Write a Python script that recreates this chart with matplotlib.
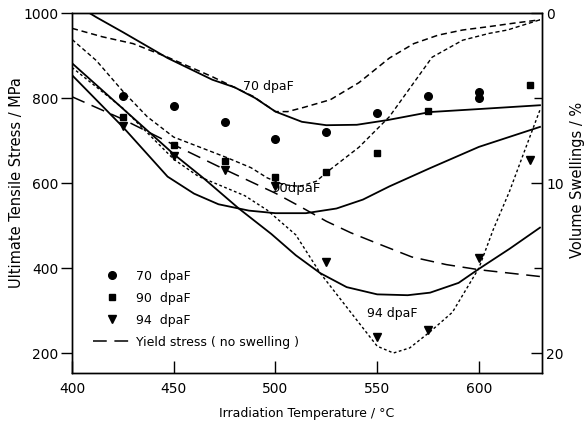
import matplotlib
matplotlib.use("Agg")
import matplotlib.pyplot as plt
from matplotlib.lines import Line2D

# ---------------- data ----------------
# measured UTS points (MPa)
t_70 = [425, 450, 475, 500, 525, 550, 575, 600, 600]
uts_70 = [805, 781, 744, 704, 720, 765, 805, 813, 801]
t_90 = [425, 450, 475, 500, 525, 550, 575, 625]
uts_90 = [755, 690, 652, 614, 626, 671, 770, 831]
t_94 = [425, 450, 475, 500, 525, 550, 575, 600, 625]
uts_94 = [733, 663, 630, 592, 415, 237, 253, 423, 655]

# predicted UTS curves (MPa, solid)
tc_70 = [400, 412, 425, 447, 469, 480, 490, 500, 513, 525, 540, 555, 576, 600, 630]
uc_70 = [1025, 990, 955, 894, 843, 825, 800, 768, 744, 736, 737, 748, 767, 774, 783]
tc_90 = [400, 425, 447, 460, 472, 487, 500, 515, 530, 543, 556, 576, 600, 630]
uc_90 = [854, 732, 615, 575, 550, 535, 529, 529, 540, 561, 592, 635, 685, 732]
tc_94 = [400, 425, 450, 465, 482, 498, 510, 522, 535, 550, 565, 576, 590, 600, 615, 630]
uc_94 = [882, 775, 668, 610, 540, 480, 430, 388, 355, 338, 336, 342, 365, 398, 445, 495]

# yield stress, no swelling (MPa, long dash)
t_ys = [400, 425, 450, 475, 500, 512, 525, 537, 550, 567, 584, 600, 615, 630]
ys = [803, 750, 690, 632, 576, 545, 510, 483, 458, 426, 408, 396, 388, 380]

# volume swelling curves (%, right axis, short dash)
ts_70 = [400, 415, 430, 447, 469, 489, 500, 506, 514, 527, 541, 556, 568, 580, 592, 605, 617, 630]
sw_70 = [0.9, 1.4, 1.8, 2.6, 3.75, 4.9, 5.8, 5.8, 5.55, 5.1, 4.1, 2.65, 1.8, 1.3, 1.0, 0.8, 0.6, 0.4]
ts_90 = [400, 412, 425, 437, 450, 463, 476, 488, 496, 504, 512, 520, 527, 541, 556, 568, 577, 592, 605, 614, 630]
sw_90 = [1.55, 2.8, 4.6, 6.1, 7.3, 7.9, 8.5, 9.1, 9.7, 10.1, 10.2, 9.9, 9.2, 7.9, 6.1, 4.1, 2.6, 1.6, 1.2, 1.0, 0.4]
ts_94 = [400, 425, 450, 462, 475, 485, 496, 510, 522, 535, 550, 558, 566, 576, 587, 600, 607, 615, 622, 630]
sw_94 = [3.2, 5.6, 8.6, 9.6, 10.25, 10.75, 11.6, 13.05, 15.3, 17.3, 19.6, 20.0, 19.7, 18.75, 17.6, 15.0, 12.75, 10.5, 8.25, 5.7]

x_ticks = [400, 450, 500, 550, 600]
y_ticks = [200, 400, 600, 800, 1000]
y2_ticks = [0, 10, 20]
y2_minor = [5, 15]

# ---------------- figure ----------------
plt.rcParams['font.family'] = ['DejaVu Sans']
fig = plt.figure(figsize=(5.85, 4.25), dpi=100)
ax = fig.add_axes([0.123, 0.1224, 0.8035, 0.847])
ax2 = ax.twinx()

k = 'black'
ax.plot(tc_70, uc_70, color=k, lw=1.3)
ax.plot(tc_90, uc_90, color=k, lw=1.3)
ax.plot(tc_94, uc_94, color=k, lw=1.3)
ax.plot(t_ys, ys, color=k, lw=1.1, dashes=(9, 5))

ax2.plot(ts_70, sw_70, color=k, lw=1.1, dashes=(4, 2.5))
ax2.plot(ts_90, sw_90, color=k, lw=1.0, dashes=(3, 2))
ax2.plot(ts_94, sw_94, color=k, lw=1.0, dashes=(2, 1.8))

ax.plot(t_70, uts_70, 'o', color=k, ms=5.5, ls='none')
ax.plot(t_90, uts_90, 's', color=k, ms=5, ls='none')
ax.plot(t_94, uts_94, 'v', color=k, ms=6, ls='none')

ax.set_xlim(400, 631)
ax.set_ylim(153, 1000)
ax2.set_ylim(21.175, 0)

ax.set_xticks(x_ticks)
ax.set_yticks(y_ticks)
ax2.set_yticks(y2_ticks)
ax2.set_yticks(y2_minor, minor=True)

fs = 9
tfs = 10
ax.tick_params(axis='x', direction='in', length=9, width=1, labelsize=tfs, pad=6.5)
ax.tick_params(axis='y', direction='out', length=8, width=1, labelsize=tfs, pad=2)
ax2.tick_params(axis='y', which='major', direction='in', length=8, width=1, labelsize=tfs, pad=3)
ax2.tick_params(axis='y', which='minor', direction='in', length=6, width=1)

for a in (ax, ax2):
    for s in a.spines.values():
        s.set_linewidth(1.0)

ax.set_xlabel('Irradiation Temperature / °C', fontsize=fs, labelpad=8)
ax.set_ylabel('Ultimate Tensile Stress / MPa', fontsize=10.5)
ax.yaxis.set_label_coords(-0.102, 0.53)
ax2.set_ylabel('Volume Swellings / %', fontsize=10.5, rotation=90)
ax2.yaxis.set_label_coords(1.060, 0.536)

ax.text(484, 826, '70 dpaF', fontsize=fs, va='center', ha='left')
ax.text(498, 588, '90dpaF', fontsize=9.5, va='center', ha='left')
ax.text(545, 293, '94 dpaF', fontsize=fs, va='center', ha='left')

handles = [
    Line2D([], [], marker='o', color=k, ls='none', ms=5.5),
    Line2D([], [], marker='s', color=k, ls='none', ms=5),
    Line2D([], [], marker='v', color=k, ls='none', ms=6),
    Line2D([], [], color=k, lw=1.1, dashes=(9, 5)),
]
labels = ['70  dpaF', '90  dpaF', '94  dpaF', 'Yield stress ( no swelling )']
ax.legend(handles, labels, loc='lower left', bbox_to_anchor=(0.045, 0.068),
          frameon=False, fontsize=fs, handlelength=3.0, handletextpad=0.4,
          labelspacing=0.72, borderpad=0, borderaxespad=0)

fig.savefig('out.png', dpi=100)
